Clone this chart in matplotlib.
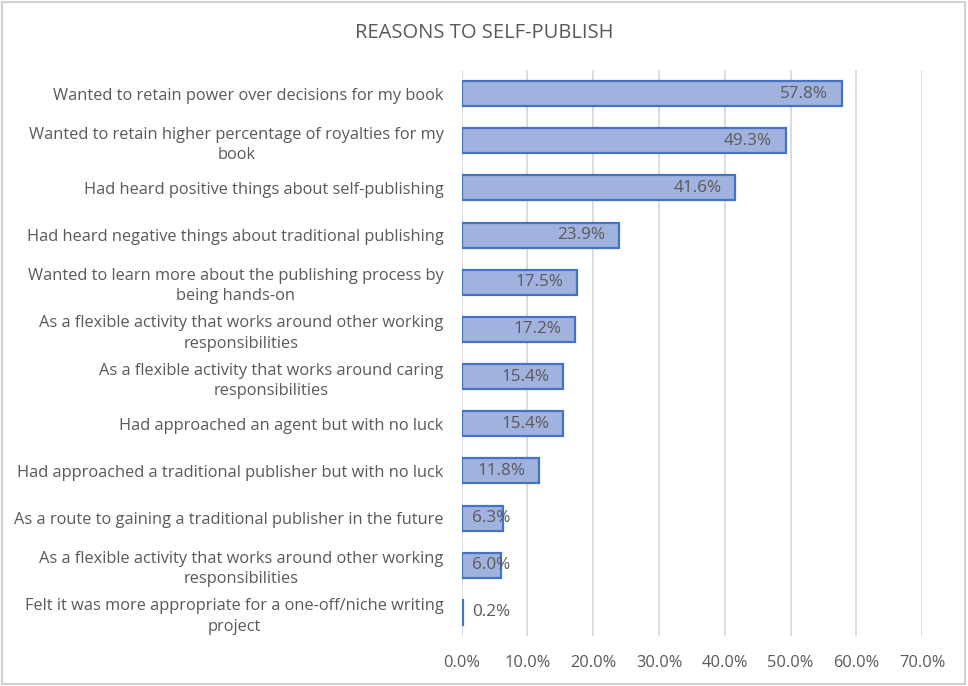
import matplotlib
matplotlib.use('Agg')
import matplotlib.pyplot as plt
from matplotlib.patches import Rectangle
from matplotlib.ticker import FuncFormatter

reasons = [
    'Wanted to retain power over decisions for my book',
    'Wanted to retain higher percentage of royalties for my\nbook',
    'Had heard positive things about self-publishing',
    'Had heard negative things about traditional publishing',
    'Wanted to learn more about the publishing process by\nbeing hands-on',
    'As a flexible activity that works around other working\nresponsibilities',
    'As a flexible activity that works around caring\nresponsibilities',
    'Had approached an agent but with no luck',
    'Had approached a traditional publisher but with no luck',
    'As a route to gaining a traditional publisher in the future',
    'As a flexible activity that works around other working\nresponsibilities',
    'Felt it was more appropriate for a one-off/niche writing\nproject',
]
shares = [0.578, 0.493, 0.416, 0.239, 0.175, 0.172, 0.154, 0.154, 0.118, 0.063, 0.060, 0.002]
xticks = [0.0, 0.1, 0.2, 0.3, 0.4, 0.5, 0.6, 0.7]

grey = '#595959'
plt.rcParams['font.family'] = ['Open Sans', 'DejaVu Sans']

fig = plt.figure(figsize=(9.68, 6.86), dpi=100)
ax = fig.add_axes([0.477, 0.073, 0.4755, 0.825])

pos = list(range(len(reasons)))
ax.barh(pos, shares, height=0.53, color='#a2b2de', edgecolor='#4472c4', linewidth=1.6, zorder=3)

for y, v in zip(pos, shares):
    xr = max(v - 0.021, 0.0745)
    ax.text(xr, y, '{:.1f}%'.format(v * 100), ha='right', va='center',
            color=grey, fontsize=12.3, zorder=4)

ax.set_xlim(0, 0.7)
ax.set_ylim(len(reasons) - 0.5, -0.5)
ax.set_xticks(xticks)
ax.xaxis.set_major_formatter(FuncFormatter(lambda v, _: '{:.1f}%'.format(v * 100)))
ax.set_yticks(pos)
ax.set_yticklabels(reasons, multialignment='center', linespacing=1.35)
ax.tick_params(axis='both', length=0, colors=grey, labelsize=11.8)
ax.tick_params(axis='y', pad=13)
ax.tick_params(axis='x', pad=14)
ax.grid(axis='x', color='#d9d9d9', linewidth=1.3, zorder=0)
for s in ax.spines.values():
    s.set_visible(False)

fig.text(0.5, 0.952, 'REASONS TO SELF-PUBLISH', ha='center', va='center',
         color=grey, fontsize=14.5)
fig.patches.append(Rectangle((0.002, 0.003), 0.995, 0.994, transform=fig.transFigure,
                             fill=False, edgecolor='#d0d0d0', linewidth=1.5))

fig.savefig('out.png', dpi=100)
